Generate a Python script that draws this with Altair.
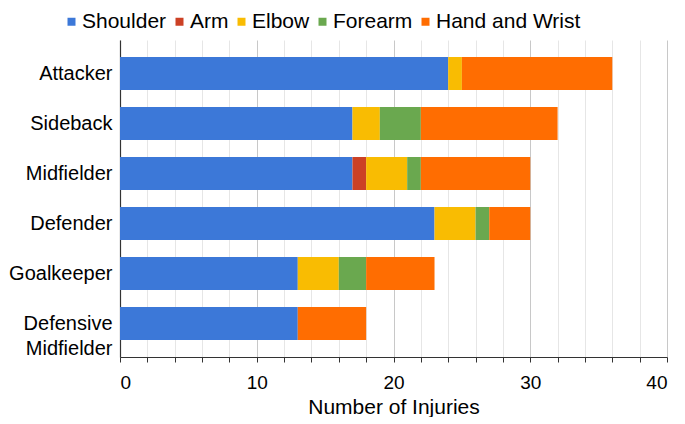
import altair as alt
import pandas as pd

positions = ["Attacker", "Sideback", "Midfielder", "Defender", "Goalkeeper", "Defensive Midfielder"]
parts = ["Shoulder", "Arm", "Elbow", "Forearm", "Hand and Wrist"]
colors = ["#3C78D8", "#CC4125", "#F9BC02", "#6AA84F", "#FF6D01"]

shoulder = [24, 17, 17, 23, 13, 13]
arm = [0, 0, 1, 0, 0, 0]
elbow = [1, 2, 3, 3, 3, 0]
forearm = [0, 3, 1, 1, 2, 0]
hand_wrist = [11, 10, 8, 3, 5, 5]

series = [shoulder, arm, elbow, forearm, hand_wrist]
rows = []
for pi, (part, vals) in enumerate(zip(parts, series)):
    for pos, v in zip(positions, vals):
        rows.append({"Position": pos, "Part": part, "Count": v, "order": pi})
df = pd.DataFrame(rows)

FONT = "Liberation Sans"

chart = alt.Chart(df).mark_bar().encode(
    y=alt.Y("Position:N", sort=positions,
            scale=alt.Scale(paddingInner=0.34, paddingOuter=0.34),
            axis=alt.Axis(title=None, labelFontSize=20, labelColor="#000", labelFont=FONT,
                          ticks=False, domainColor="#333", domainWidth=1.2,
                          labelPadding=8, labelExpr="split(datum.label, ' ')",
                          labelLineHeight=25, grid=False)),
    x=alt.X("Count:Q", stack="zero",
            scale=alt.Scale(domain=[0, 40], nice=False),
            axis=alt.Axis(title="Number of Injuries", titleFontSize=21, titleFont=FONT,
                          titleFontWeight="normal", titleColor="#000", titlePadding=4,
                          values=list(range(0, 41, 2)),
                          labelExpr="datum.value % 10 === 0 ? datum.label : ''",
                          labelFontSize=19, labelFont=FONT, labelColor="#000", labelPadding=11,
                          tickColor="#333", tickSize=5, domainColor="#333",
                          gridColor={"condition": {"test": "datum.value % 10 === 0", "value": "#c8c8c8"}, "value": "#e6e6e6"},
                          gridWidth=1)),
    color=alt.Color("Part:N", sort=parts,
                    scale=alt.Scale(domain=parts, range=colors),
                    legend=alt.Legend(title=None, orient="none", legendX=-59, legendY=-29,
                                      direction="horizontal", symbolType="square",
                                      symbolSize=64, symbolStrokeWidth=0,
                                      labelFontSize=21, labelFont=FONT, labelColor="#000",
                                      labelOffset=0, columnPadding=2)),
    order=alt.Order("order:Q"),
).properties(
    width=547, height=317,
    autosize=alt.AutoSizeParams(type="none"),
    padding={"left": 112, "top": 32, "right": 10, "bottom": 60},
).configure_view(stroke=None)

chart.save("out.html", embed_options={"renderer": "svg", "actions": False})
